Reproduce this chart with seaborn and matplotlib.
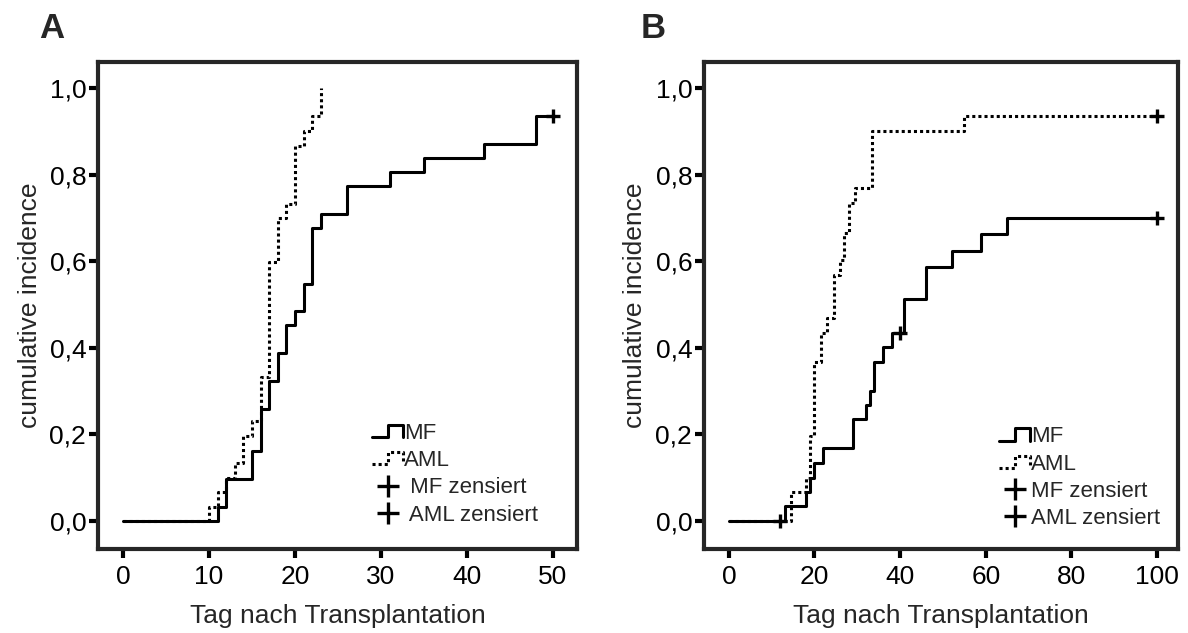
import matplotlib
matplotlib.use("Agg")
import matplotlib.pyplot as plt
import numpy as np
import seaborn as sns
from matplotlib.lines import Line2D
from matplotlib.legend_handler import HandlerBase

# Panel A: days after transplant / cumulative incidence
a_mf_days = [0, 11, 12, 15, 16, 17, 18, 19, 20, 21, 22, 23, 26, 31, 35, 42, 48, 50]
a_mf_inc = [0, 0.032, 0.097, 0.161, 0.258, 0.323, 0.387, 0.452, 0.484, 0.548,
            0.677, 0.71, 0.774, 0.806, 0.839, 0.871, 0.935, 0.935]
a_aml_days = [0, 10, 11, 12, 13, 14, 15, 16, 17, 18, 19, 20, 21, 22, 23]
a_aml_inc = [0, 0.033, 0.067, 0.1, 0.133, 0.197, 0.23, 0.333, 0.597, 0.7,
             0.733, 0.867, 0.9, 0.935, 1.0]
a_mf_cens_days = [50]
a_mf_cens_inc = [0.935]

# Panel B
b_mf_days = [0, 13, 18, 19, 20, 22, 29, 32, 33, 34, 36, 38, 41, 46, 52, 59, 65, 100]
b_mf_inc = [0, 0.035, 0.066, 0.1, 0.133, 0.168, 0.235, 0.268, 0.301, 0.368,
            0.401, 0.435, 0.512, 0.586, 0.624, 0.663, 0.699, 0.699]
b_aml_days = [0, 14.5, 18, 19, 20, 21.5, 23, 24.5, 26, 27, 28, 29.5, 33.5, 55, 100]
b_aml_inc = [0, 0.067, 0.1, 0.197, 0.368, 0.434, 0.468, 0.568, 0.603, 0.664,
             0.735, 0.768, 0.901, 0.935, 0.935]
b_mf_cens_days = [12, 40, 100]
b_mf_cens_inc = [0, 0.435, 0.699]
b_aml_cens_days = [100]
b_aml_cens_inc = [0.935]

y_ticks = [0, 0.2, 0.4, 0.6, 0.8, 1.0]
y_tick_labels = ["0,0", "0,2", "0,4", "0,6", "0,8", "1,0"]
a_x_ticks = [0, 10, 20, 30, 40, 50]
b_x_ticks = [0, 20, 40, 60, 80, 100]

sns.set_style("ticks")
plt.rcParams["font.family"] = ["Liberation Sans", "DejaVu Sans"]

DOTS = (0, (1, 1))
LW = 2.2


class StepHandler(HandlerBase):
    # draws the little step glyph used in the legend
    def __init__(self, ls="-"):
        super().__init__()
        self.ls = ls

    def create_artists(self, legend, orig_handle, xdescent, ydescent,
                       width, height, fontsize, trans):
        xs = np.array([0, 0.5, 0.5, 1.0, 1.0]) * width - xdescent
        ys = np.array([0.12, 0.12, 0.9, 0.9, 0.12]) * height - ydescent
        line = Line2D(xs, ys, color="black", linestyle=self.ls,
                      linewidth=LW, dash_capstyle="butt")
        line.set_transform(trans)
        return [line]


fig = plt.figure(figsize=(11.88, 6.33), dpi=100)
ax_a = fig.add_axes([0.0825, 0.1327, 0.4032, 0.7693])
ax_b = fig.add_axes([0.5926, 0.1327, 0.3990, 0.7693])


def draw_panel(ax, mf_d, mf_v, aml_d, aml_v, cens):
    sns.lineplot(x=mf_d, y=mf_v, ax=ax, color="black", linewidth=LW,
                 drawstyle="steps-post", estimator=None, sort=False)
    sns.lineplot(x=aml_d, y=aml_v, ax=ax, color="black", linewidth=LW,
                 linestyle=DOTS, drawstyle="steps-post", estimator=None,
                 sort=False)
    for cx, cy in cens:
        sns.scatterplot(x=cx, y=cy, ax=ax, marker="+", s=90, color="black",
                        linewidth=2.4, zorder=5)


draw_panel(ax_a, a_mf_days, a_mf_inc, a_aml_days, a_aml_inc,
           [(a_mf_cens_days, a_mf_cens_inc)])
draw_panel(ax_b, b_mf_days, b_mf_inc, b_aml_days, b_aml_inc,
           [(b_mf_cens_days, b_mf_cens_inc), (b_aml_cens_days, b_aml_cens_inc)])

ax_a.set_xlim(-2.9, 52.8)
ax_b.set_xlim(-5.8, 104.9)
ax_a.set_xticks(a_x_ticks)
ax_b.set_xticks(b_x_ticks)

for ax in (ax_a, ax_b):
    ax.set_ylim(-0.065, 1.06)
    ax.set_yticks(y_ticks)
    ax.set_yticklabels(y_tick_labels)
    for sp in ax.spines.values():
        sp.set_visible(True)
        sp.set_linewidth(3)
    ax.tick_params(axis="both", direction="out", length=6.5, width=3,
                   labelsize=19, colors="black")
    ax.tick_params(axis="x", pad=5)
    ax.tick_params(axis="y", pad=2)
    ax.set_xlabel("Tag nach Transplantation", fontsize=19)
    ax.set_ylabel("cumulative incidence", fontsize=19)
    ax.xaxis.set_label_coords(0.5, -0.113)

ax_a.yaxis.set_label_coords(-0.117, 0.5)
ax_b.yaxis.set_label_coords(-0.12, 0.5)

mf_h = Line2D([], [], color="black", linewidth=LW)
aml_h = Line2D([], [], color="black", linewidth=LW, linestyle=":")
cens_h = Line2D([], [], color="black", marker="+", linestyle="none",
                markersize=16, markeredgewidth=2.4)
cens_h2 = Line2D([], [], color="black", marker="+", linestyle="none",
                 markersize=16, markeredgewidth=2.4)

legend_kw = dict(frameon=False, fontsize=16, handlelength=1.4,
                 handletextpad=0.05, labelspacing=0.28, borderpad=0,
                 loc="lower left",
                 handler_map={mf_h: StepHandler("-"), aml_h: StepHandler(DOTS)})
ax_a.legend([mf_h, aml_h, cens_h, cens_h2],
            ["MF", "AML", " MF zensiert", " AML zensiert"],
            bbox_to_anchor=(0.549, 0.025), **legend_kw)
ax_b.legend([mf_h, aml_h, cens_h, cens_h2],
            ["MF", "AML", "MF zensiert", "AML zensiert"],
            bbox_to_anchor=(0.599, 0.018), **legend_kw)

fig.text(52 / 1188, 1 - 28 / 633, "A", fontsize=25, fontweight="bold",
         ha="center", va="center")
fig.text(653 / 1188, 1 - 28 / 633, "B", fontsize=25, fontweight="bold",
         ha="center", va="center")

fig.savefig("out.png", dpi=100)
